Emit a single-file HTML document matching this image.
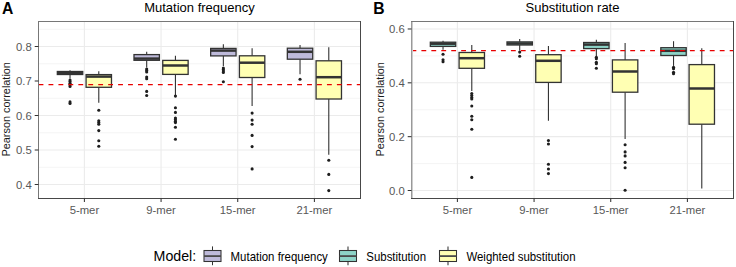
<!DOCTYPE html>
<html><head><meta charset="utf-8"><style>
html,body{margin:0;padding:0;background:#fff;}
svg{display:block;}
svg text{font-family:"Liberation Sans", sans-serif;}
</style></head><body>
<svg width="736" height="267" viewBox="0 0 736 267">
<rect width="736" height="267" fill="#fff"/>
<line x1="38" x2="361" y1="167.25" y2="167.25" stroke="#EBEBEB" stroke-width="0.55"/>
<line x1="38" x2="361" y1="132.75" y2="132.75" stroke="#EBEBEB" stroke-width="0.55"/>
<line x1="38" x2="361" y1="98.25" y2="98.25" stroke="#EBEBEB" stroke-width="0.55"/>
<line x1="38" x2="361" y1="63.75" y2="63.75" stroke="#EBEBEB" stroke-width="0.55"/>
<line x1="38" x2="361" y1="29.25" y2="29.25" stroke="#EBEBEB" stroke-width="0.55"/>
<line x1="38" x2="361" y1="184.50" y2="184.50" stroke="#EBEBEB" stroke-width="1.1"/>
<line x1="38" x2="361" y1="150.00" y2="150.00" stroke="#EBEBEB" stroke-width="1.1"/>
<line x1="38" x2="361" y1="115.50" y2="115.50" stroke="#EBEBEB" stroke-width="1.1"/>
<line x1="38" x2="361" y1="81.00" y2="81.00" stroke="#F7F7F7" stroke-width="1.1"/>
<line x1="38" x2="361" y1="46.50" y2="46.50" stroke="#EBEBEB" stroke-width="1.1"/>
<line x1="84.40" x2="84.40" y1="21" y2="199" stroke="#EBEBEB" stroke-width="1.1"/>
<line x1="161.07" x2="161.07" y1="21" y2="199" stroke="#EBEBEB" stroke-width="1.1"/>
<line x1="237.73" x2="237.73" y1="21" y2="199" stroke="#EBEBEB" stroke-width="1.1"/>
<line x1="314.40" x2="314.40" y1="21" y2="199" stroke="#EBEBEB" stroke-width="1.1"/>
<line x1="70.03" x2="70.03" y1="70.20" y2="71.50" stroke="#333333" stroke-width="1.1"/>
<line x1="70.03" x2="70.03" y1="74.50" y2="78.60" stroke="#333333" stroke-width="1.1"/>
<rect x="57.33" y="71.50" width="25.40" height="3.00" fill="#BEBADA" stroke="#333333" stroke-width="1.3"/>
<line x1="57.33" x2="82.73" y1="73.10" y2="73.10" stroke="#333333" stroke-width="2.5"/>
<circle cx="70.03" cy="80.00" r="1.55" fill="#1e1e1e"/>
<circle cx="70.03" cy="81.60" r="1.55" fill="#1e1e1e"/>
<circle cx="70.03" cy="83.20" r="1.55" fill="#1e1e1e"/>
<circle cx="70.03" cy="84.80" r="1.55" fill="#1e1e1e"/>
<circle cx="70.03" cy="86.40" r="1.55" fill="#1e1e1e"/>
<circle cx="70.03" cy="101.90" r="1.55" fill="#1e1e1e"/>
<circle cx="70.03" cy="103.50" r="1.55" fill="#1e1e1e"/>
<line x1="98.78" x2="98.78" y1="71.20" y2="74.60" stroke="#333333" stroke-width="1.1"/>
<line x1="98.78" x2="98.78" y1="87.30" y2="102.80" stroke="#333333" stroke-width="1.1"/>
<rect x="86.08" y="74.60" width="25.40" height="12.70" fill="#FFFFB3" stroke="#333333" stroke-width="1.3"/>
<line x1="86.08" x2="111.48" y1="76.60" y2="76.60" stroke="#333333" stroke-width="2.5"/>
<circle cx="98.78" cy="110.20" r="1.55" fill="#1e1e1e"/>
<circle cx="98.78" cy="120.80" r="1.55" fill="#1e1e1e"/>
<circle cx="98.78" cy="122.50" r="1.55" fill="#1e1e1e"/>
<circle cx="98.78" cy="124.20" r="1.55" fill="#1e1e1e"/>
<circle cx="98.78" cy="130.60" r="1.55" fill="#1e1e1e"/>
<circle cx="98.78" cy="140.80" r="1.55" fill="#1e1e1e"/>
<circle cx="98.78" cy="146.20" r="1.55" fill="#1e1e1e"/>
<line x1="146.69" x2="146.69" y1="51.70" y2="54.60" stroke="#333333" stroke-width="1.1"/>
<line x1="146.69" x2="146.69" y1="60.30" y2="67.50" stroke="#333333" stroke-width="1.1"/>
<rect x="133.99" y="54.60" width="25.40" height="5.70" fill="#BEBADA" stroke="#333333" stroke-width="1.3"/>
<line x1="133.99" x2="159.39" y1="58.60" y2="58.60" stroke="#333333" stroke-width="2.5"/>
<circle cx="146.69" cy="69.00" r="1.55" fill="#1e1e1e"/>
<circle cx="146.69" cy="70.50" r="1.55" fill="#1e1e1e"/>
<circle cx="146.69" cy="72.00" r="1.55" fill="#1e1e1e"/>
<circle cx="146.69" cy="77.00" r="1.55" fill="#1e1e1e"/>
<circle cx="146.69" cy="78.80" r="1.55" fill="#1e1e1e"/>
<circle cx="146.69" cy="91.40" r="1.55" fill="#1e1e1e"/>
<circle cx="146.69" cy="95.50" r="1.55" fill="#1e1e1e"/>
<line x1="175.44" x2="175.44" y1="55.70" y2="60.40" stroke="#333333" stroke-width="1.1"/>
<line x1="175.44" x2="175.44" y1="74.40" y2="95.00" stroke="#333333" stroke-width="1.1"/>
<rect x="162.74" y="60.40" width="25.40" height="14.00" fill="#FFFFB3" stroke="#333333" stroke-width="1.3"/>
<line x1="162.74" x2="188.14" y1="65.50" y2="65.50" stroke="#333333" stroke-width="2.5"/>
<circle cx="175.44" cy="96.10" r="1.55" fill="#1e1e1e"/>
<circle cx="175.44" cy="107.80" r="1.55" fill="#1e1e1e"/>
<circle cx="175.44" cy="112.40" r="1.55" fill="#1e1e1e"/>
<circle cx="175.44" cy="118.00" r="1.55" fill="#1e1e1e"/>
<circle cx="175.44" cy="119.60" r="1.55" fill="#1e1e1e"/>
<circle cx="175.44" cy="121.20" r="1.55" fill="#1e1e1e"/>
<circle cx="175.44" cy="122.60" r="1.55" fill="#1e1e1e"/>
<circle cx="175.44" cy="127.20" r="1.55" fill="#1e1e1e"/>
<circle cx="175.44" cy="139.30" r="1.55" fill="#1e1e1e"/>
<line x1="223.36" x2="223.36" y1="44.20" y2="48.40" stroke="#333333" stroke-width="1.1"/>
<line x1="223.36" x2="223.36" y1="55.90" y2="66.00" stroke="#333333" stroke-width="1.1"/>
<rect x="210.66" y="48.40" width="25.40" height="7.50" fill="#BEBADA" stroke="#333333" stroke-width="1.3"/>
<line x1="210.66" x2="236.06" y1="50.60" y2="50.60" stroke="#333333" stroke-width="2.5"/>
<circle cx="223.36" cy="68.00" r="1.55" fill="#1e1e1e"/>
<circle cx="223.36" cy="69.50" r="1.55" fill="#1e1e1e"/>
<circle cx="223.36" cy="71.00" r="1.55" fill="#1e1e1e"/>
<circle cx="223.36" cy="72.50" r="1.55" fill="#1e1e1e"/>
<circle cx="223.36" cy="81.80" r="1.55" fill="#1e1e1e"/>
<line x1="252.11" x2="252.11" y1="48.20" y2="55.80" stroke="#333333" stroke-width="1.1"/>
<line x1="252.11" x2="252.11" y1="77.50" y2="106.00" stroke="#333333" stroke-width="1.1"/>
<rect x="239.41" y="55.80" width="25.40" height="21.70" fill="#FFFFB3" stroke="#333333" stroke-width="1.3"/>
<line x1="239.41" x2="264.81" y1="62.70" y2="62.70" stroke="#333333" stroke-width="2.5"/>
<circle cx="252.11" cy="113.10" r="1.55" fill="#1e1e1e"/>
<circle cx="252.11" cy="120.10" r="1.55" fill="#1e1e1e"/>
<circle cx="252.11" cy="124.20" r="1.55" fill="#1e1e1e"/>
<circle cx="252.11" cy="135.40" r="1.55" fill="#1e1e1e"/>
<circle cx="252.11" cy="146.60" r="1.55" fill="#1e1e1e"/>
<circle cx="252.11" cy="168.90" r="1.55" fill="#1e1e1e"/>
<line x1="300.03" x2="300.03" y1="45.10" y2="48.20" stroke="#333333" stroke-width="1.1"/>
<line x1="300.03" x2="300.03" y1="59.20" y2="74.30" stroke="#333333" stroke-width="1.1"/>
<rect x="287.33" y="48.20" width="25.40" height="11.00" fill="#BEBADA" stroke="#333333" stroke-width="1.3"/>
<line x1="287.33" x2="312.73" y1="51.80" y2="51.80" stroke="#333333" stroke-width="2.5"/>
<circle cx="300.03" cy="79.20" r="1.55" fill="#1e1e1e"/>
<line x1="328.78" x2="328.78" y1="47.30" y2="60.80" stroke="#333333" stroke-width="1.1"/>
<line x1="328.78" x2="328.78" y1="99.00" y2="154.80" stroke="#333333" stroke-width="1.1"/>
<rect x="316.08" y="60.80" width="25.40" height="38.20" fill="#FFFFB3" stroke="#333333" stroke-width="1.3"/>
<line x1="316.08" x2="341.48" y1="77.20" y2="77.20" stroke="#333333" stroke-width="2.5"/>
<circle cx="328.78" cy="160.20" r="1.55" fill="#1e1e1e"/>
<circle cx="328.78" cy="174.40" r="1.55" fill="#1e1e1e"/>
<circle cx="328.78" cy="190.60" r="1.55" fill="#1e1e1e"/>
<line x1="38.55" x2="361" y1="84.5" y2="84.5" stroke="#E80000" stroke-width="1.25" stroke-dasharray="4.85 5.095"/>
<line x1="38.5" x2="38.5" y1="21" y2="199" stroke="#777" stroke-width="1"/>
<line x1="38" x2="361" y1="21.5" y2="21.5" stroke="#777" stroke-width="1"/>
<line x1="360.5" x2="360.5" y1="21" y2="199" stroke="#484848" stroke-width="1"/>
<line x1="38" x2="361" y1="198.5" y2="198.5" stroke="#484848" stroke-width="1"/>
<line x1="411" x2="734" y1="163.58" y2="163.58" stroke="#EBEBEB" stroke-width="0.55"/>
<line x1="411" x2="734" y1="109.74" y2="109.74" stroke="#EBEBEB" stroke-width="0.55"/>
<line x1="411" x2="734" y1="55.90" y2="55.90" stroke="#EBEBEB" stroke-width="0.55"/>
<line x1="411" x2="734" y1="190.50" y2="190.50" stroke="#EBEBEB" stroke-width="1.1"/>
<line x1="411" x2="734" y1="136.66" y2="136.66" stroke="#EBEBEB" stroke-width="1.1"/>
<line x1="411" x2="734" y1="82.82" y2="82.82" stroke="#EBEBEB" stroke-width="1.1"/>
<line x1="411" x2="734" y1="28.98" y2="28.98" stroke="#EBEBEB" stroke-width="1.1"/>
<line x1="457.40" x2="457.40" y1="21" y2="199" stroke="#EBEBEB" stroke-width="1.1"/>
<line x1="534.07" x2="534.07" y1="21" y2="199" stroke="#EBEBEB" stroke-width="1.1"/>
<line x1="610.73" x2="610.73" y1="21" y2="199" stroke="#EBEBEB" stroke-width="1.1"/>
<line x1="687.40" x2="687.40" y1="21" y2="199" stroke="#EBEBEB" stroke-width="1.1"/>
<line x1="443.03" x2="443.03" y1="40.80" y2="42.20" stroke="#333333" stroke-width="1.1"/>
<line x1="443.03" x2="443.03" y1="46.40" y2="49.80" stroke="#333333" stroke-width="1.1"/>
<rect x="430.33" y="42.20" width="25.40" height="4.20" fill="#8DD3C7" stroke="#333333" stroke-width="1.3"/>
<line x1="430.33" x2="455.73" y1="43.70" y2="43.70" stroke="#333333" stroke-width="2.5"/>
<circle cx="443.03" cy="54.30" r="1.55" fill="#1e1e1e"/>
<circle cx="443.03" cy="59.80" r="1.55" fill="#1e1e1e"/>
<circle cx="443.03" cy="61.80" r="1.55" fill="#1e1e1e"/>
<line x1="471.78" x2="471.78" y1="45.00" y2="52.50" stroke="#333333" stroke-width="1.1"/>
<line x1="471.78" x2="471.78" y1="68.30" y2="91.00" stroke="#333333" stroke-width="1.1"/>
<rect x="459.08" y="52.50" width="25.40" height="15.80" fill="#FFFFB3" stroke="#333333" stroke-width="1.3"/>
<line x1="459.08" x2="484.48" y1="58.20" y2="58.20" stroke="#333333" stroke-width="2.5"/>
<circle cx="471.78" cy="93.50" r="1.55" fill="#1e1e1e"/>
<circle cx="471.78" cy="95.50" r="1.55" fill="#1e1e1e"/>
<circle cx="471.78" cy="97.50" r="1.55" fill="#1e1e1e"/>
<circle cx="471.78" cy="99.00" r="1.55" fill="#1e1e1e"/>
<circle cx="471.78" cy="106.00" r="1.55" fill="#1e1e1e"/>
<circle cx="471.78" cy="116.20" r="1.55" fill="#1e1e1e"/>
<circle cx="471.78" cy="119.80" r="1.55" fill="#1e1e1e"/>
<circle cx="471.78" cy="129.30" r="1.55" fill="#1e1e1e"/>
<circle cx="471.78" cy="177.40" r="1.55" fill="#1e1e1e"/>
<line x1="519.69" x2="519.69" y1="39.00" y2="41.90" stroke="#333333" stroke-width="1.1"/>
<line x1="519.69" x2="519.69" y1="45.00" y2="50.60" stroke="#333333" stroke-width="1.1"/>
<rect x="506.99" y="41.90" width="25.40" height="3.10" fill="#8DD3C7" stroke="#333333" stroke-width="1.3"/>
<line x1="506.99" x2="532.39" y1="43.50" y2="43.50" stroke="#333333" stroke-width="2.5"/>
<circle cx="519.69" cy="52.10" r="1.55" fill="#1e1e1e"/>
<circle cx="519.69" cy="56.20" r="1.55" fill="#1e1e1e"/>
<line x1="548.44" x2="548.44" y1="45.90" y2="54.70" stroke="#333333" stroke-width="1.1"/>
<line x1="548.44" x2="548.44" y1="82.40" y2="120.70" stroke="#333333" stroke-width="1.1"/>
<rect x="535.74" y="54.70" width="25.40" height="27.70" fill="#FFFFB3" stroke="#333333" stroke-width="1.3"/>
<line x1="535.74" x2="561.14" y1="60.80" y2="60.80" stroke="#333333" stroke-width="2.5"/>
<circle cx="548.44" cy="140.50" r="1.55" fill="#1e1e1e"/>
<circle cx="548.44" cy="144.00" r="1.55" fill="#1e1e1e"/>
<circle cx="548.44" cy="164.30" r="1.55" fill="#1e1e1e"/>
<circle cx="548.44" cy="169.00" r="1.55" fill="#1e1e1e"/>
<circle cx="548.44" cy="173.60" r="1.55" fill="#1e1e1e"/>
<line x1="596.36" x2="596.36" y1="39.70" y2="42.50" stroke="#333333" stroke-width="1.1"/>
<line x1="596.36" x2="596.36" y1="48.60" y2="56.10" stroke="#333333" stroke-width="1.1"/>
<rect x="583.66" y="42.50" width="25.40" height="6.10" fill="#8DD3C7" stroke="#333333" stroke-width="1.3"/>
<line x1="583.66" x2="609.06" y1="44.60" y2="44.60" stroke="#333333" stroke-width="2.5"/>
<circle cx="596.36" cy="57.30" r="1.55" fill="#1e1e1e"/>
<circle cx="596.36" cy="58.70" r="1.55" fill="#1e1e1e"/>
<circle cx="596.36" cy="62.30" r="1.55" fill="#1e1e1e"/>
<circle cx="596.36" cy="63.80" r="1.55" fill="#1e1e1e"/>
<circle cx="596.36" cy="68.20" r="1.55" fill="#1e1e1e"/>
<line x1="625.11" x2="625.11" y1="43.10" y2="59.90" stroke="#333333" stroke-width="1.1"/>
<line x1="625.11" x2="625.11" y1="92.20" y2="139.00" stroke="#333333" stroke-width="1.1"/>
<rect x="612.41" y="59.90" width="25.40" height="32.30" fill="#FFFFB3" stroke="#333333" stroke-width="1.3"/>
<line x1="612.41" x2="637.81" y1="71.50" y2="71.50" stroke="#333333" stroke-width="2.5"/>
<circle cx="625.11" cy="144.70" r="1.55" fill="#1e1e1e"/>
<circle cx="625.11" cy="151.90" r="1.55" fill="#1e1e1e"/>
<circle cx="625.11" cy="155.90" r="1.55" fill="#1e1e1e"/>
<circle cx="625.11" cy="162.40" r="1.55" fill="#1e1e1e"/>
<circle cx="625.11" cy="167.80" r="1.55" fill="#1e1e1e"/>
<circle cx="625.11" cy="190.30" r="1.55" fill="#1e1e1e"/>
<line x1="673.53" x2="673.53" y1="41.20" y2="47.70" stroke="#333333" stroke-width="1.1"/>
<line x1="673.53" x2="673.53" y1="55.50" y2="65.90" stroke="#333333" stroke-width="1.1"/>
<rect x="660.83" y="47.70" width="25.40" height="7.80" fill="#8DD3C7" stroke="#333333" stroke-width="1.3"/>
<line x1="660.83" x2="686.23" y1="50.80" y2="50.80" stroke="#333333" stroke-width="2.5"/>
<circle cx="673.53" cy="67.30" r="1.55" fill="#1e1e1e"/>
<circle cx="673.53" cy="68.80" r="1.55" fill="#1e1e1e"/>
<circle cx="673.53" cy="72.30" r="1.55" fill="#1e1e1e"/>
<circle cx="673.53" cy="73.80" r="1.55" fill="#1e1e1e"/>
<line x1="701.78" x2="701.78" y1="48.20" y2="64.60" stroke="#333333" stroke-width="1.1"/>
<line x1="701.78" x2="701.78" y1="124.20" y2="188.50" stroke="#333333" stroke-width="1.1"/>
<rect x="689.08" y="64.60" width="25.40" height="59.60" fill="#FFFFB3" stroke="#333333" stroke-width="1.3"/>
<line x1="689.08" x2="714.48" y1="88.50" y2="88.50" stroke="#333333" stroke-width="2.5"/>
<line x1="411.45" x2="734" y1="50.5" y2="50.5" stroke="#E80000" stroke-width="1.25" stroke-dasharray="4.85 5.095"/>
<line x1="411.5" x2="411.5" y1="21" y2="199" stroke="#999" stroke-width="1"/>
<line x1="412.5" x2="412.5" y1="22" y2="198" stroke="#ccc" stroke-width="1"/>
<line x1="411" x2="734" y1="21.5" y2="21.5" stroke="#777" stroke-width="1"/>
<line x1="733.5" x2="733.5" y1="21" y2="199" stroke="#484848" stroke-width="1"/>
<line x1="411" x2="734" y1="198.5" y2="198.5" stroke="#484848" stroke-width="1"/>
<line x1="34.70" x2="38.5" y1="184.50" y2="184.50" stroke="#333333" stroke-width="1.05"/>
<text transform="translate(31.70,188.80) scale(0.96,1)" text-anchor="end"  font-size="11.8" fill="#585858">0.4</text>
<line x1="34.70" x2="38.5" y1="150.00" y2="150.00" stroke="#333333" stroke-width="1.05"/>
<text transform="translate(31.70,154.30) scale(0.96,1)" text-anchor="end"  font-size="11.8" fill="#585858">0.5</text>
<line x1="34.70" x2="38.5" y1="115.50" y2="115.50" stroke="#333333" stroke-width="1.05"/>
<text transform="translate(31.70,119.80) scale(0.96,1)" text-anchor="end"  font-size="11.8" fill="#585858">0.6</text>
<line x1="34.70" x2="38.5" y1="81.00" y2="81.00" stroke="#333333" stroke-width="1.05"/>
<text transform="translate(31.70,85.30) scale(0.96,1)" text-anchor="end"  font-size="11.8" fill="#585858">0.7</text>
<line x1="34.70" x2="38.5" y1="46.50" y2="46.50" stroke="#333333" stroke-width="1.05"/>
<text transform="translate(31.70,50.80) scale(0.96,1)" text-anchor="end"  font-size="11.8" fill="#585858">0.8</text>
<line x1="407.70" x2="411.5" y1="190.50" y2="190.50" stroke="#333333" stroke-width="1.05"/>
<text transform="translate(404.70,194.80) scale(0.96,1)" text-anchor="end"  font-size="11.8" fill="#585858">0.0</text>
<line x1="407.70" x2="411.5" y1="136.66" y2="136.66" stroke="#333333" stroke-width="1.05"/>
<text transform="translate(404.70,140.96) scale(0.96,1)" text-anchor="end"  font-size="11.8" fill="#585858">0.2</text>
<line x1="407.70" x2="411.5" y1="82.82" y2="82.82" stroke="#333333" stroke-width="1.05"/>
<text transform="translate(404.70,87.12) scale(0.96,1)" text-anchor="end"  font-size="11.8" fill="#585858">0.4</text>
<line x1="407.70" x2="411.5" y1="28.98" y2="28.98" stroke="#333333" stroke-width="1.05"/>
<text transform="translate(404.70,33.28) scale(0.96,1)" text-anchor="end"  font-size="11.8" fill="#585858">0.6</text>
<line x1="84.40" x2="84.40" y1="198.5" y2="202.1" stroke="#333333" stroke-width="1.05"/>
<text transform="translate(84.40,213.5) scale(0.955,1)" text-anchor="middle"  font-size="11.85" fill="#585858">5-mer</text>
<line x1="161.07" x2="161.07" y1="198.5" y2="202.1" stroke="#333333" stroke-width="1.05"/>
<text transform="translate(161.07,213.5) scale(0.955,1)" text-anchor="middle"  font-size="11.85" fill="#585858">9-mer</text>
<line x1="237.73" x2="237.73" y1="198.5" y2="202.1" stroke="#333333" stroke-width="1.05"/>
<text transform="translate(237.73,213.5) scale(0.955,1)" text-anchor="middle"  font-size="11.85" fill="#585858">15-mer</text>
<line x1="314.40" x2="314.40" y1="198.5" y2="202.1" stroke="#333333" stroke-width="1.05"/>
<text transform="translate(314.40,213.5) scale(0.955,1)" text-anchor="middle"  font-size="11.85" fill="#585858">21-mer</text>
<line x1="457.40" x2="457.40" y1="198.5" y2="202.1" stroke="#333333" stroke-width="1.05"/>
<text transform="translate(457.40,213.5) scale(0.955,1)" text-anchor="middle"  font-size="11.85" fill="#585858">5-mer</text>
<line x1="534.07" x2="534.07" y1="198.5" y2="202.1" stroke="#333333" stroke-width="1.05"/>
<text transform="translate(534.07,213.5) scale(0.955,1)" text-anchor="middle"  font-size="11.85" fill="#585858">9-mer</text>
<line x1="610.73" x2="610.73" y1="198.5" y2="202.1" stroke="#333333" stroke-width="1.05"/>
<text transform="translate(610.73,213.5) scale(0.955,1)" text-anchor="middle"  font-size="11.85" fill="#585858">15-mer</text>
<line x1="687.40" x2="687.40" y1="198.5" y2="202.1" stroke="#333333" stroke-width="1.05"/>
<text transform="translate(687.40,213.5) scale(0.955,1)" text-anchor="middle"  font-size="11.85" fill="#585858">21-mer</text>
<text transform="translate(10.3,109.3) rotate(-90)" text-anchor="middle"  font-size="10.9" fill="#1a1a1a">Pearson correlation</text>
<text transform="translate(383.5,109.3) rotate(-90)" text-anchor="middle"  font-size="10.9" fill="#1a1a1a">Pearson correlation</text>
<text x="199.5" y="11.5" text-anchor="middle"  font-size="13" fill="#000">Mutation frequency</text>
<text x="572.5" y="11.5" text-anchor="middle"  font-size="13" fill="#000">Substitution rate</text>
<text x="2.0" y="14.1"  font-size="15.7" font-weight="bold" fill="#000">A</text>
<text x="373.3" y="14.1"  font-size="15.7" font-weight="bold" fill="#000">B</text>
<text x="153.6" y="261.4"  font-size="14.2" fill="#000">Model:</text>
<line x1="212.5" x2="212.5" y1="246.4" y2="265.2" stroke="#333333" stroke-width="1.05"/>
<rect x="204.0" y="250.5" width="17" height="11" fill="#BEBADA" stroke="#333333" stroke-width="1.05"/>
<line x1="204.0" x2="221.0" y1="256.1" y2="256.1" stroke="#4a4a4a" stroke-width="1.8"/>
<line x1="348" x2="348" y1="246.4" y2="265.2" stroke="#333333" stroke-width="1.05"/>
<rect x="339.5" y="250.5" width="17" height="11" fill="#8DD3C7" stroke="#333333" stroke-width="1.05"/>
<line x1="339.5" x2="356.5" y1="256.1" y2="256.1" stroke="#4a4a4a" stroke-width="1.8"/>
<line x1="448" x2="448" y1="246.4" y2="265.2" stroke="#333333" stroke-width="1.05"/>
<rect x="439.5" y="250.5" width="17" height="11" fill="#FFFFB3" stroke="#333333" stroke-width="1.05"/>
<line x1="439.5" x2="456.5" y1="256.1" y2="256.1" stroke="#4a4a4a" stroke-width="1.8"/>
<text transform="translate(230.6,260.7) scale(0.953,1)"  font-size="12" fill="#000">Mutation frequency</text>
<text transform="translate(366.3,260.7) scale(0.953,1)"  font-size="12" fill="#000">Substitution</text>
<text transform="translate(466.4,260.7) scale(0.953,1)"  font-size="12" fill="#000">Weighted substitution</text>
</svg>
</body></html>
